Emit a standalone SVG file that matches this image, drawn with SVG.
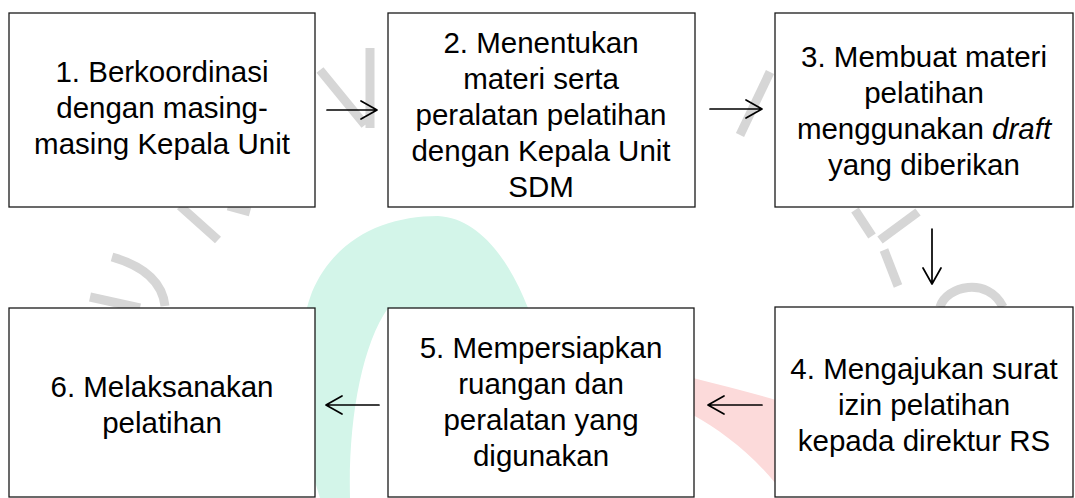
<svg xmlns="http://www.w3.org/2000/svg" width="1075" height="498" viewBox="0 0 1075 498">
<style>
.box{fill:#fff;stroke:#1a1a1a;stroke-width:1.3}
.t{font-family:"Liberation Sans",Arial,sans-serif;font-size:29.5px;fill:#000;text-anchor:middle}
.c{stroke:#000;stroke-width:1.7;fill:none;stroke-linecap:round;stroke-linejoin:round}
.wm{stroke:#d6d6d6;stroke-width:9;fill:none;stroke-linecap:butt;stroke-linejoin:round}
</style>
<rect width="1075" height="498" fill="#fff"/>
<g id="watermark">
<path d="M320,498 C298,430 290,350 312,292 C335,238 385,216 438,216 C480,218 510,262 528,308 L388,308 C362,345 348,420 350,498 Z" fill="#d3f5e9"/>
<path d="M693,378 C720,385 750,392 776,400 L776,484 C750,452 720,430 693,415 Z" fill="#fcdada"/>
<path class="wm" d="M320,70 L365,125 M370,48 L370,128"/>
<path class="wm" d="M180,206 L218,240 M228,206 L250,212"/>
<path class="wm" d="M112,257 C140,265 162,280 165,306 M90,297 L140,308"/>
<path class="wm" d="M740,135 L770,72"/>
<path class="wm" d="M855,210 L872,236 M918,212 L880,240 M884,250 L898,286"/>
<path class="wm" d="M940,307 C946,286 988,276 1003,307"/>
</g>
<g id="connectors">
<path class="c" d="M327,110 H377 M361,101 L377,110 L361,119"/>
<path class="c" d="M710,109 H762 M746,100 L762,109 L746,118"/>
<path class="c" d="M932,229 V284 M923,268 L932,284 L941,268"/>
<path class="c" d="M762,405 H708 M724,396 L708,405 L724,414"/>
<path class="c" d="M379,405 H326 M342,396 L326,405 L342,414"/>
</g>
<g id="n1"><rect class="box" x="9" y="13" width="306" height="194"/>
<text class="t"><tspan x="162" y="82">1. Berkoordinasi</tspan><tspan x="162" y="118">dengan masing-</tspan><tspan x="162" y="154">masing Kepala Unit</tspan></text></g>
<g id="n2"><rect class="box" x="388" y="13" width="307" height="194"/>
<text class="t"><tspan x="541" y="53">2. Menentukan</tspan><tspan x="541" y="89">materi serta</tspan><tspan x="541" y="125">peralatan pelatihan</tspan><tspan x="541" y="161">dengan Kepala Unit</tspan><tspan x="541" y="197">SDM</tspan></text></g>
<g id="n3"><rect class="box" x="775" y="13" width="298" height="194"/>
<text class="t"><tspan x="924" y="67">3. Membuat materi</tspan><tspan x="924" y="103">pelatihan</tspan><tspan x="924" y="139">menggunakan <tspan font-style="italic">draft</tspan></tspan><tspan x="924" y="175">yang diberikan</tspan></text></g>
<g id="n4"><rect class="box" x="775" y="307" width="298" height="190"/>
<text class="t"><tspan x="924" y="379">4. Mengajukan surat</tspan><tspan x="924" y="415">izin pelatihan</tspan><tspan x="924" y="451">kepada direktur RS</tspan></text></g>
<g id="n5"><rect class="box" x="388" y="308" width="306" height="189"/>
<text class="t"><tspan x="541" y="358">5. Mempersiapkan</tspan><tspan x="541" y="394">ruangan dan</tspan><tspan x="541" y="430">peralatan yang</tspan><tspan x="541" y="466">digunakan</tspan></text></g>
<g id="n6"><rect class="box" x="9" y="308" width="306" height="189"/>
<text class="t"><tspan x="162" y="397">6. Melaksanakan</tspan><tspan x="162" y="433">pelatihan</tspan></text></g>
</svg>
